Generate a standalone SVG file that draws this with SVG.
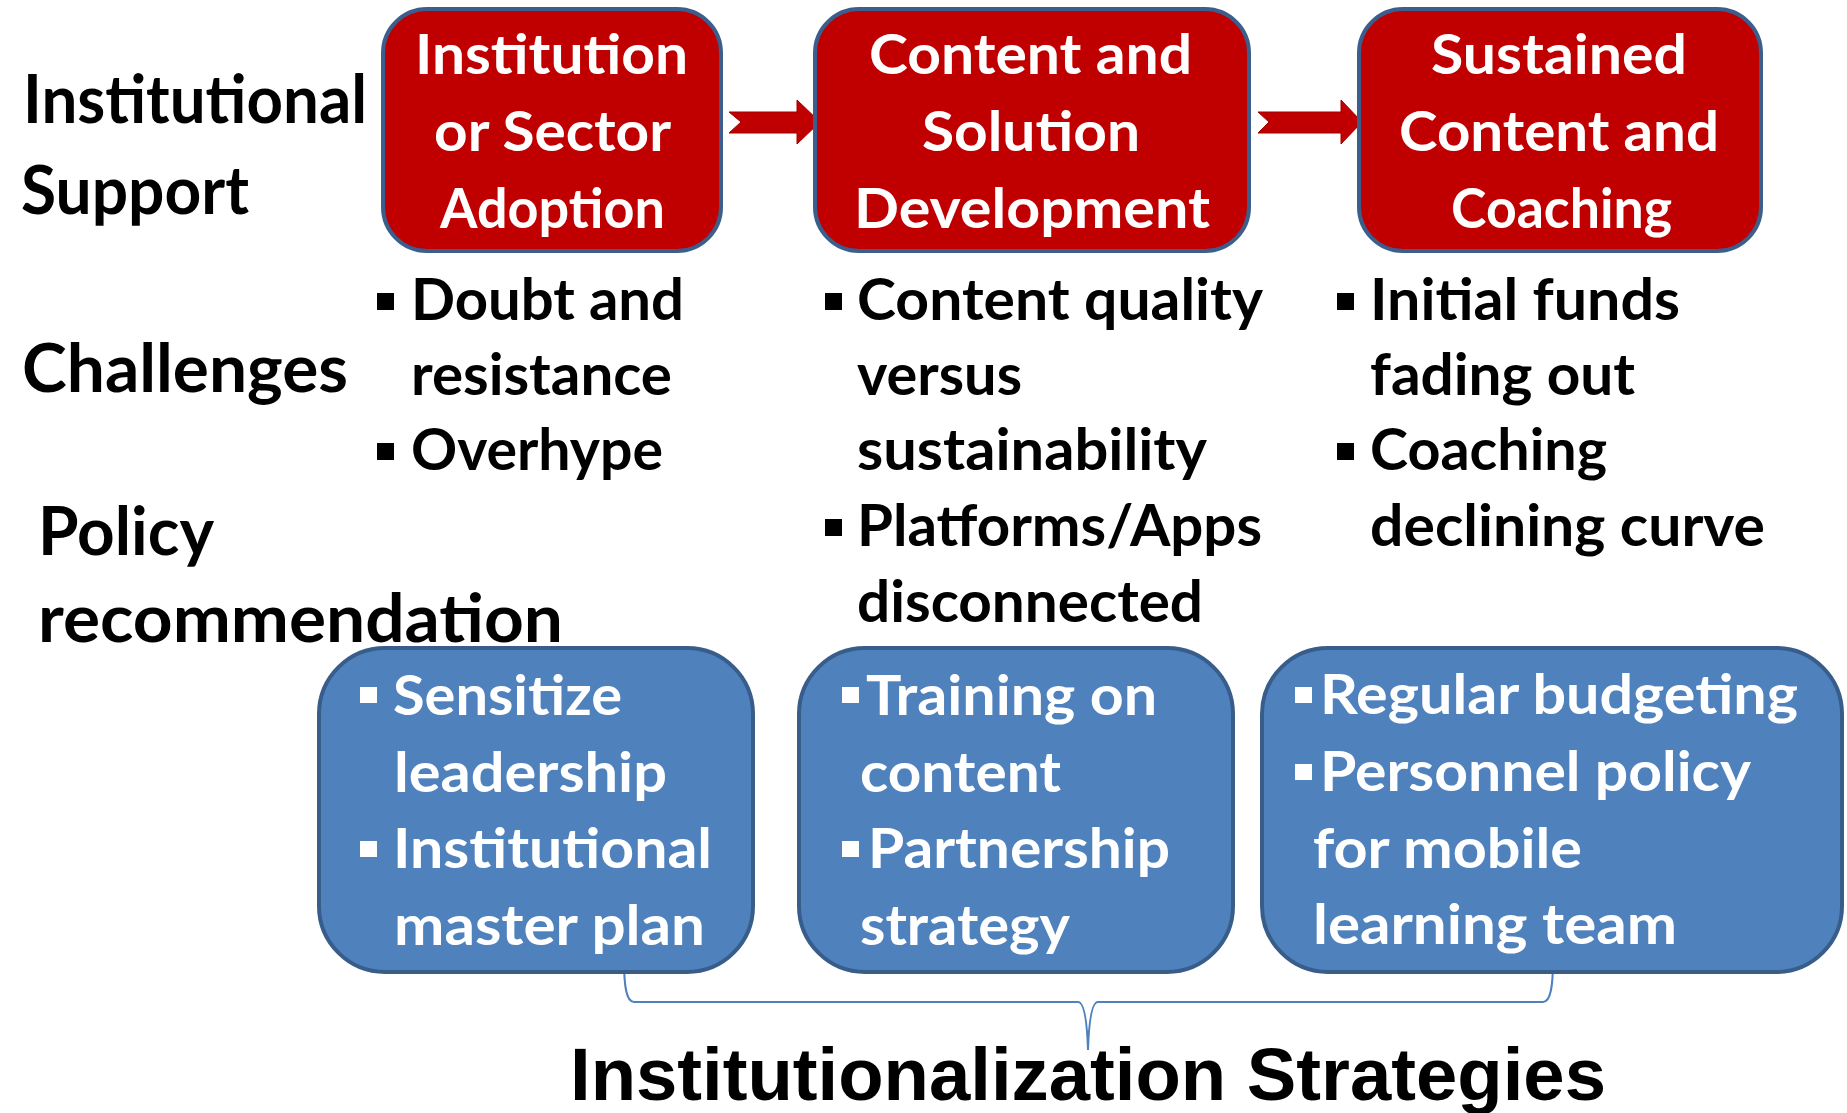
<svg xmlns="http://www.w3.org/2000/svg" width="1847" height="1113" viewBox="0 0 1847 1113">
<style>
.t{font-family:Lato,"Open Sans","Liberation Sans",sans-serif;font-weight:bold}
.red{fill:#C00000;stroke:#3B5E8C;stroke-width:4}
.blue{fill:#4F81BD;stroke:#385D8A;stroke-width:4}
.w{fill:#FFFFFF}
.k{fill:#000000}
.lbl{font-size:66px}
.rt{font-size:56px}
.ct{font-size:57px}
.bt{font-size:56px}
.arrow{fill:#C00000;stroke:#A00000;stroke-width:1}
.brace{fill:none;stroke:#4F81BD;stroke-width:2}
.title{font-family:"Liberation Sans",Arial,sans-serif;font-weight:bold;font-size:74px;fill:#000}
</style>
<rect width="1847" height="1113" fill="#FFFFFF"/>

<g id="connectors">
<path class="brace" d="M624,960 C624,985 626,1002 634,1002 L1078,1002 C1084,1002 1087,1020 1088,1050 C1089,1020 1092,1002 1098,1002 L1543,1002 C1551,1002 1553,985 1553,960"/>
<polygon class="arrow" points="729,112 797,112 797,100 820,122 797,144 797,133 729,133 741,122"/>
<polygon class="arrow" points="1258,112 1341,112 1341,100 1362,122 1341,144 1341,133 1258,133 1269,122"/>
</g>

<g id="labels" class="t k lbl">
<text x="23" y="123" textLength="344" lengthAdjust="spacingAndGlyphs">Institutional</text>
<text x="21" y="214" textLength="228" lengthAdjust="spacingAndGlyphs">Support</text>
<text x="22" y="392" textLength="326" lengthAdjust="spacingAndGlyphs">Challenges</text>
<text x="38" y="555" textLength="176" lengthAdjust="spacingAndGlyphs">Policy</text>
<text x="38" y="642" textLength="525" lengthAdjust="spacingAndGlyphs">recommendation</text>
</g>

<g id="stage1">
<rect class="red" x="383" y="9" width="338" height="242" rx="44"/>
<g class="t w rt">
<text x="415" y="74" textLength="273" lengthAdjust="spacingAndGlyphs">Institution</text>
<text x="434" y="151" textLength="237" lengthAdjust="spacingAndGlyphs">or Sector</text>
<text x="440" y="228" textLength="225" lengthAdjust="spacingAndGlyphs">Adoption</text>
</g>
</g>

<g id="stage2">
<rect class="red" x="815" y="9" width="434" height="242" rx="44"/>
<g class="t w rt">
<text x="869" y="74" textLength="323" lengthAdjust="spacingAndGlyphs">Content and</text>
<text x="922" y="151" textLength="218" lengthAdjust="spacingAndGlyphs">Solution</text>
<text x="854" y="228" textLength="356" lengthAdjust="spacingAndGlyphs">Development</text>
</g>
</g>

<g id="stage3">
<rect class="red" x="1359" y="9" width="402" height="242" rx="44"/>
<g class="t w rt">
<text x="1431" y="74" textLength="256" lengthAdjust="spacingAndGlyphs">Sustained</text>
<text x="1399" y="151" textLength="320" lengthAdjust="spacingAndGlyphs">Content and</text>
<text x="1451" y="228" textLength="221" lengthAdjust="spacingAndGlyphs">Coaching</text>
</g>
</g>

<g id="challenges1">
<rect class="k" x="377" y="293" width="17" height="17"/>
<rect class="k" x="377" y="443" width="17" height="17"/>
<g class="t k ct">
<text x="411" y="320" textLength="273" lengthAdjust="spacingAndGlyphs">Doubt and</text>
<text x="411" y="395" textLength="261" lengthAdjust="spacingAndGlyphs">resistance</text>
<text x="411" y="470" textLength="252" lengthAdjust="spacingAndGlyphs">Overhype</text>
</g>
</g>

<g id="challenges2">
<rect class="k" x="825" y="293" width="17" height="17"/>
<rect class="k" x="825" y="519" width="17" height="17"/>
<g class="t k ct">
<text x="857" y="320" textLength="406" lengthAdjust="spacingAndGlyphs">Content quality</text>
<text x="857" y="395" textLength="165" lengthAdjust="spacingAndGlyphs">versus</text>
<text x="857" y="470" textLength="350" lengthAdjust="spacingAndGlyphs">sustainability</text>
<text x="857" y="546" textLength="405" lengthAdjust="spacingAndGlyphs">Platforms/Apps</text>
<text x="857" y="622" textLength="346" lengthAdjust="spacingAndGlyphs">disconnected</text>
</g>
</g>

<g id="challenges3">
<rect class="k" x="1337" y="293" width="17" height="17"/>
<rect class="k" x="1337" y="443" width="17" height="17"/>
<g class="t k ct">
<text x="1370" y="320" textLength="310" lengthAdjust="spacingAndGlyphs">Initial funds</text>
<text x="1370" y="395" textLength="265" lengthAdjust="spacingAndGlyphs">fading out</text>
<text x="1370" y="470" textLength="237" lengthAdjust="spacingAndGlyphs">Coaching</text>
<text x="1370" y="546" textLength="395" lengthAdjust="spacingAndGlyphs">declining curve</text>
</g>
</g>

<g id="policy1">
<rect class="blue" x="319" y="648" width="434" height="324" rx="66"/>
<rect class="w" x="360" y="687" width="17" height="16"/>
<rect class="w" x="360" y="841" width="17" height="16"/>
<g class="t w bt">
<text x="393" y="715" textLength="229" lengthAdjust="spacingAndGlyphs">Sensitize</text>
<text x="394" y="792" textLength="273" lengthAdjust="spacingAndGlyphs">leadership</text>
<text x="393" y="868" textLength="319" lengthAdjust="spacingAndGlyphs">Institutional</text>
<text x="394" y="945" textLength="311" lengthAdjust="spacingAndGlyphs">master plan</text>
</g>
</g>

<g id="policy2">
<rect class="blue" x="799" y="648" width="434" height="324" rx="66"/>
<rect class="w" x="842" y="687" width="17" height="16"/>
<rect class="w" x="842" y="841" width="17" height="16"/>
<g class="t w bt">
<text x="866" y="715" textLength="291" lengthAdjust="spacingAndGlyphs">Training on</text>
<text x="860" y="792" textLength="201" lengthAdjust="spacingAndGlyphs">content</text>
<text x="868" y="868" textLength="302" lengthAdjust="spacingAndGlyphs">Partnership</text>
<text x="860" y="945" textLength="210" lengthAdjust="spacingAndGlyphs">strategy</text>
</g>
</g>

<g id="policy3">
<rect class="blue" x="1262" y="648" width="580" height="324" rx="66"/>
<rect class="w" x="1295" y="687" width="17" height="16"/>
<rect class="w" x="1295" y="764" width="17" height="16"/>
<g class="t w bt">
<text x="1320" y="714" textLength="478" lengthAdjust="spacingAndGlyphs">Regular budgeting</text>
<text x="1320" y="791" textLength="431" lengthAdjust="spacingAndGlyphs">Personnel policy</text>
<text x="1313" y="868" textLength="269" lengthAdjust="spacingAndGlyphs">for mobile</text>
<text x="1313" y="944" textLength="364" lengthAdjust="spacingAndGlyphs">learning team</text>
</g>
</g>

<g id="strategies">
<text class="title" x="570" y="1100" textLength="1036" lengthAdjust="spacingAndGlyphs">Institutionalization Strategies</text>
</g>
</svg>
